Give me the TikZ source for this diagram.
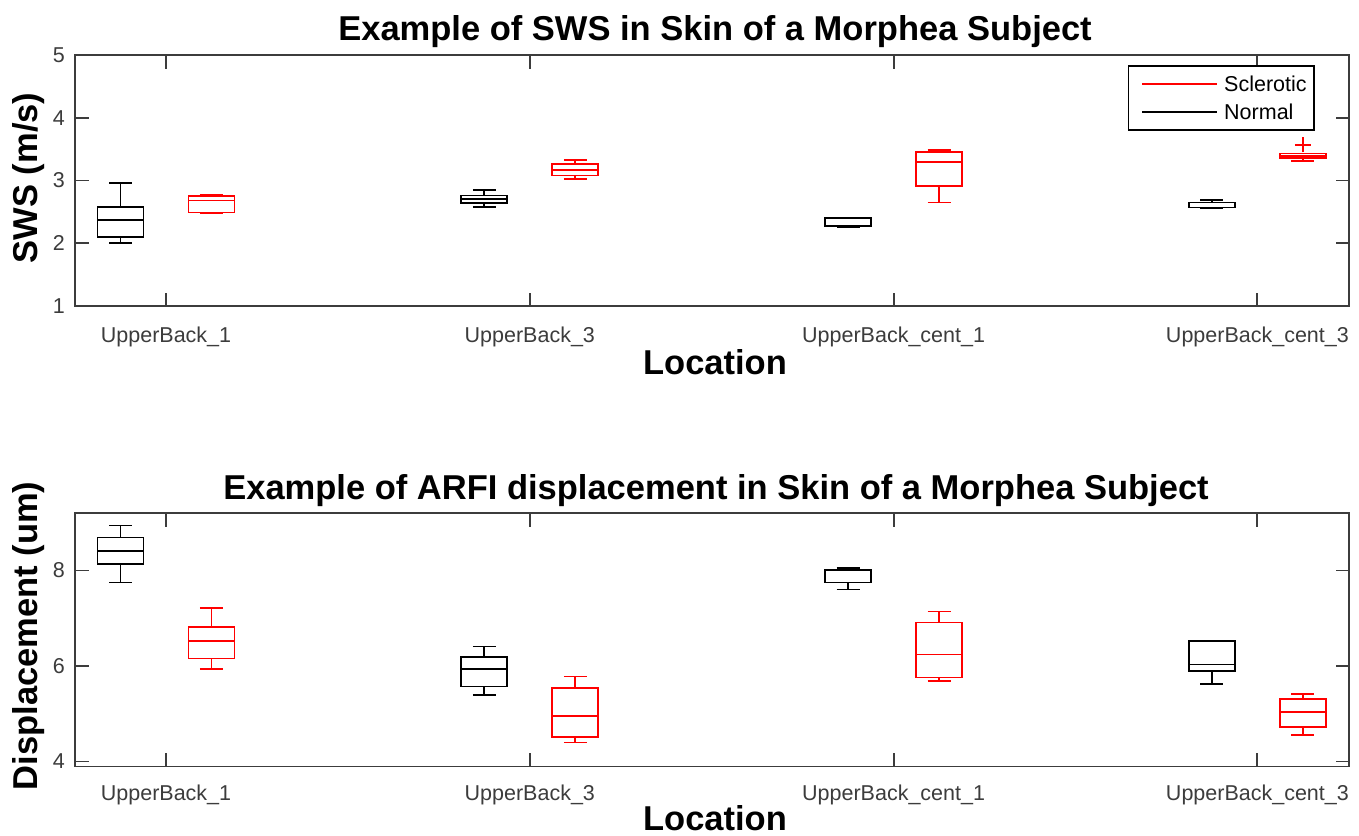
\documentclass[tikz,border=0pt]{standalone}
\usepackage{fontspec}
\setmainfont{Liberation Sans}
\definecolor{axgray}{RGB}{60,60,60}
\definecolor{sclred}{RGB}{255,0,0}

% box-and-whisker: #1 position, #2 colour, #3 low whisker, #4 q1, #5 median, #6 q3, #7 high whisker
\newcommand\bwbox[7]{%
  \draw[boxline,#2] (#1-0.0632,#4) rectangle (#1+0.0632,#6);
  \draw[boxline,#2] (#1-0.0632,#5) -- (#1+0.0632,#5);
  \draw[boxline,#2] (#1,#6) -- (#1,#7);
  \draw[boxline,#2] (#1,#4) -- (#1,#3);
  \draw[boxline,#2] (#1-0.0316,#7) -- (#1+0.0316,#7);
  \draw[boxline,#2] (#1-0.0316,#3) -- (#1+0.0316,#3);
}

\tikzset{
  boxline/.style={line width=1.7pt},
  axisline/.style={draw=axgray, line width=1.9pt},
  ticklab/.style={text=axgray, font=\fontsize{21.5}{24}\selectfont, inner sep=0pt},
  bigtitle/.style={font=\fontsize{34.5}{40}\selectfont\bfseries, inner sep=0pt},
  leglab/.style={font=\fontsize{21.5}{24}\selectfont, inner sep=0pt, anchor=west},
}

\begin{document}
\begin{tikzpicture}[x=1pt, y=-1pt]
\useasboundingbox (0,0) rectangle (1359,835);
\fill[white] (0,0) rectangle (1359,835);

% ---------------- upper panel: shear wave speed ----------------
\node[bigtitle, anchor=base] (t1) at (715,40) {Example of SWS in Skin of a Morphea Subject};
\node[bigtitle, anchor=base, rotate=90] (yl1) at (37,178) {SWS (m/s)};
\node[bigtitle, anchor=base] (xl1) at (715,374) {Location};

\begin{scope}[x={(363.8pt,0)}, y={(0,62.75pt)}, shift={(-197.8pt,-368.75pt)}]
  \bwbox{0.875}{black}{2.00}{2.095}{2.37}{2.573}{2.955}
  \bwbox{1.125}{sclred}{2.48}{2.49}{2.68}{2.75}{2.764}
  \bwbox{1.875}{black}{2.58}{2.646}{2.705}{2.76}{2.853}
  \bwbox{2.125}{sclred}{3.02}{3.08}{3.167}{3.26}{3.33}
  \bwbox{2.875}{black}{2.264}{2.28}{2.398}{2.398}{2.41}
  \bwbox{3.125}{sclred}{2.65}{2.91}{3.29}{3.45}{3.49}
  \bwbox{3.875}{black}{2.56}{2.57}{2.65}{2.65}{2.69}
  \bwbox{4.125}{sclred}{3.31}{3.36}{3.39}{3.43}{3.43}
  % outlier marker
  \coordinate (out1) at (4.125,3.566);
  \draw[sclred, line width=1.5pt] (out1) ++(-8pt,0) -- ++(16pt,0);
  \draw[sclred, line width=1.5pt] (out1) ++(0,-7.5pt) -- ++(0,15pt);
\end{scope}

% axes frame and ticks
\draw[axisline] (75,55) rectangle (1349,306);
\foreach \v in {1,...,5} {
  \pgfmathsetmacro\py{368.75-62.75*\v}
  \draw[axisline] (75,\py) -- ++(13.5,0);
  \draw[axisline] (1349,\py) -- ++(-13.5,0);
  \node[ticklab, anchor=east] at (65,\py) {\v};
}
\foreach \k/\lab in {1/UpperBack\_1, 2/UpperBack\_3, 3/UpperBack\_cent\_1, 4/UpperBack\_cent\_3} {
  \pgfmathsetmacro\px{363.8*\k-197.8}
  \draw[axisline] (\px,306) -- ++(0,-13.5);
  \draw[axisline] (\px,55) -- ++(0,13.5);
  \node[ticklab, anchor=base] at (\px,342) {\lab};
}

% legend
\draw[black, line width=1.5pt, fill=white] (1128.5,66) rectangle (1314,130);
\coordinate (lg1a) at (1142,84);
\coordinate (lg1b) at (1217,84);
\coordinate (lg2a) at (1142,112);
\coordinate (lg2b) at (1217,112);
\draw[sclred, line width=1.5pt] (lg1a) -- (lg1b);
\draw[black, line width=1.5pt] (lg2a) -- (lg2b);
\node[leglab] (lgs) at (1224,84) {Sclerotic};
\node[leglab] (lgn) at (1224,112) {Normal};

% ---------------- lower panel: ARFI displacement ----------------
\node[bigtitle, anchor=base] (t2) at (716,499) {Example of ARFI displacement in Skin of a Morphea Subject};
\node[bigtitle, anchor=base, rotate=90] (yl2) at (37,636) {Displacement (um)};
\node[bigtitle, anchor=base] (xl2) at (715,830) {Location};

\begin{scope}[x={(363.8pt,0)}, y={(0,47.75pt)}, shift={(-197.8pt,-952.5pt)}]
  \bwbox{0.875}{black}{7.75}{8.13}{8.41}{8.69}{8.94}
  \bwbox{1.125}{sclred}{5.94}{6.16}{6.52}{6.82}{7.21}
  \bwbox{1.875}{black}{5.39}{5.57}{5.94}{6.19}{6.41}
  \bwbox{2.125}{sclred}{4.40}{4.51}{4.95}{5.54}{5.78}
  \bwbox{2.875}{black}{7.60}{7.75}{8.00}{8.01}{8.05}
  \bwbox{3.125}{sclred}{5.69}{5.76}{6.24}{6.91}{7.14}
  \bwbox{3.875}{black}{5.62}{5.90}{6.03}{6.52}{6.52}
  \bwbox{4.125}{sclred}{4.55}{4.73}{5.04}{5.31}{5.41}
\end{scope}

\draw[axisline] (75,513) rectangle (1349,766.5);
\foreach \v in {4,6,8} {
  \pgfmathsetmacro\py{952.5-47.75*\v}
  \draw[axisline] (75,\py) -- ++(13.5,0);
  \draw[axisline] (1349,\py) -- ++(-13.5,0);
  \node[ticklab, anchor=east] at (65,\py) {\v};
}
\foreach \k/\lab in {1/UpperBack\_1, 2/UpperBack\_3, 3/UpperBack\_cent\_1, 4/UpperBack\_cent\_3} {
  \pgfmathsetmacro\px{363.8*\k-197.8}
  \draw[axisline] (\px,766.5) -- ++(0,-13.5);
  \draw[axisline] (\px,513) -- ++(0,13.5);
  \node[ticklab, anchor=base] at (\px,800) {\lab};
}
\end{tikzpicture}
\end{document}
